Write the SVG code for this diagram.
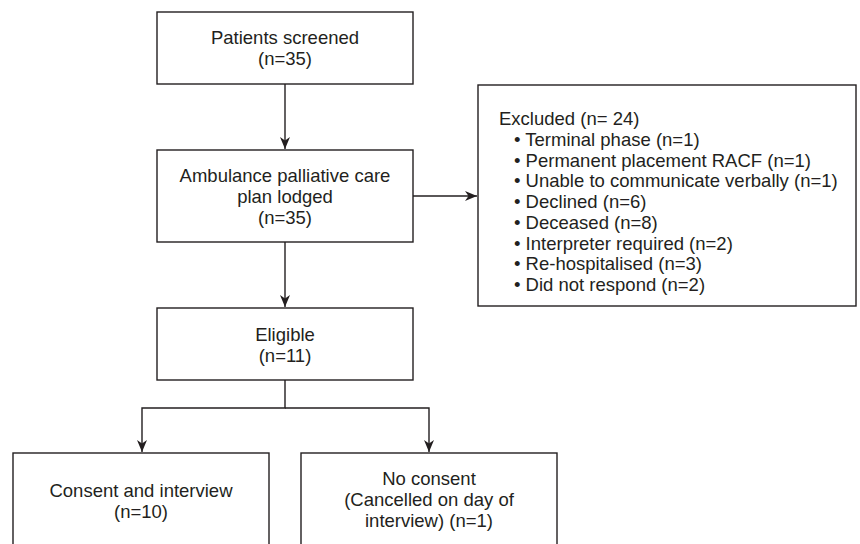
<svg xmlns="http://www.w3.org/2000/svg" width="860" height="544" viewBox="0 0 860 544">
<defs>
<marker id="ah" viewBox="-12 -6 12 12" refX="0" refY="0" markerWidth="12" markerHeight="12" markerUnits="userSpaceOnUse" orient="auto">
<path d="M0,0 L-12,-5 L-8.5,0 L-12,5 z" fill="#231f20"/>
</marker>
</defs>
<style>
.box{fill:#fff;stroke:#231f20;stroke-width:1.4}
.t{font-family:"Liberation Sans",Arial,Helvetica,sans-serif;font-size:18.5px;fill:#231f20}
.c{text-anchor:middle}
.ln{fill:none;stroke:#231f20;stroke-width:1.4}
</style>
<rect width="860" height="544" fill="#fff"/>
<g id="connectors">
<line class="ln" x1="285" y1="84" x2="285" y2="149" marker-end="url(#ah)"/>
<line class="ln" x1="413" y1="196" x2="477" y2="196" marker-end="url(#ah)"/>
<line class="ln" x1="285" y1="242" x2="285" y2="307" marker-end="url(#ah)"/>
<polyline class="ln" points="285,380 285,408 142,408 142,452" marker-end="url(#ah)"/>
<polyline class="ln" points="285,408 429,408 429,452" marker-end="url(#ah)"/>
</g>
<g id="screened">
<rect class="box" x="157" y="12" width="256" height="72"/>
<text class="t c" x="285" y="44">Patients screened</text>
<text class="t c" x="285" y="65">(n=35)</text>
</g>
<g id="lodged">
<rect class="box" x="157" y="150" width="256" height="92"/>
<text class="t c" x="285" y="182">Ambulance palliative care</text>
<text class="t c" x="285" y="203">plan lodged</text>
<text class="t c" x="285" y="224">(n=35)</text>
</g>
<g id="excluded">
<rect class="box" x="478" y="85" width="378" height="221"/>
<text class="t" x="499" y="125">Excluded (n= 24)</text>
<text class="t" x="514" y="146">• Terminal phase (n=1)</text>
<text class="t" x="514" y="167">• Permanent placement RACF (n=1)</text>
<text class="t" x="514" y="187">• Unable to communicate verbally (n=1)</text>
<text class="t" x="514" y="208">• Declined (n=6)</text>
<text class="t" x="514" y="229">• Deceased (n=8)</text>
<text class="t" x="514" y="250">• Interpreter required (n=2)</text>
<text class="t" x="514" y="270">• Re-hospitalised (n=3)</text>
<text class="t" x="514" y="291">• Did not respond (n=2)</text>
</g>
<g id="eligible">
<rect class="box" x="157" y="308" width="256" height="72"/>
<text class="t c" x="285" y="341">Eligible</text>
<text class="t c" x="285" y="362">(n=11)</text>
</g>
<g id="consent">
<rect class="box" x="13" y="453" width="256" height="100"/>
<text class="t c" x="141" y="497">Consent and interview</text>
<text class="t c" x="141" y="518">(n=10)</text>
</g>
<g id="noconsent">
<rect class="box" x="301" y="453" width="256" height="100"/>
<text class="t c" x="429" y="485">No consent</text>
<text class="t c" x="429" y="506">(Cancelled on day of</text>
<text class="t c" x="429" y="527">interview) (n=1)</text>
</g>
</svg>
